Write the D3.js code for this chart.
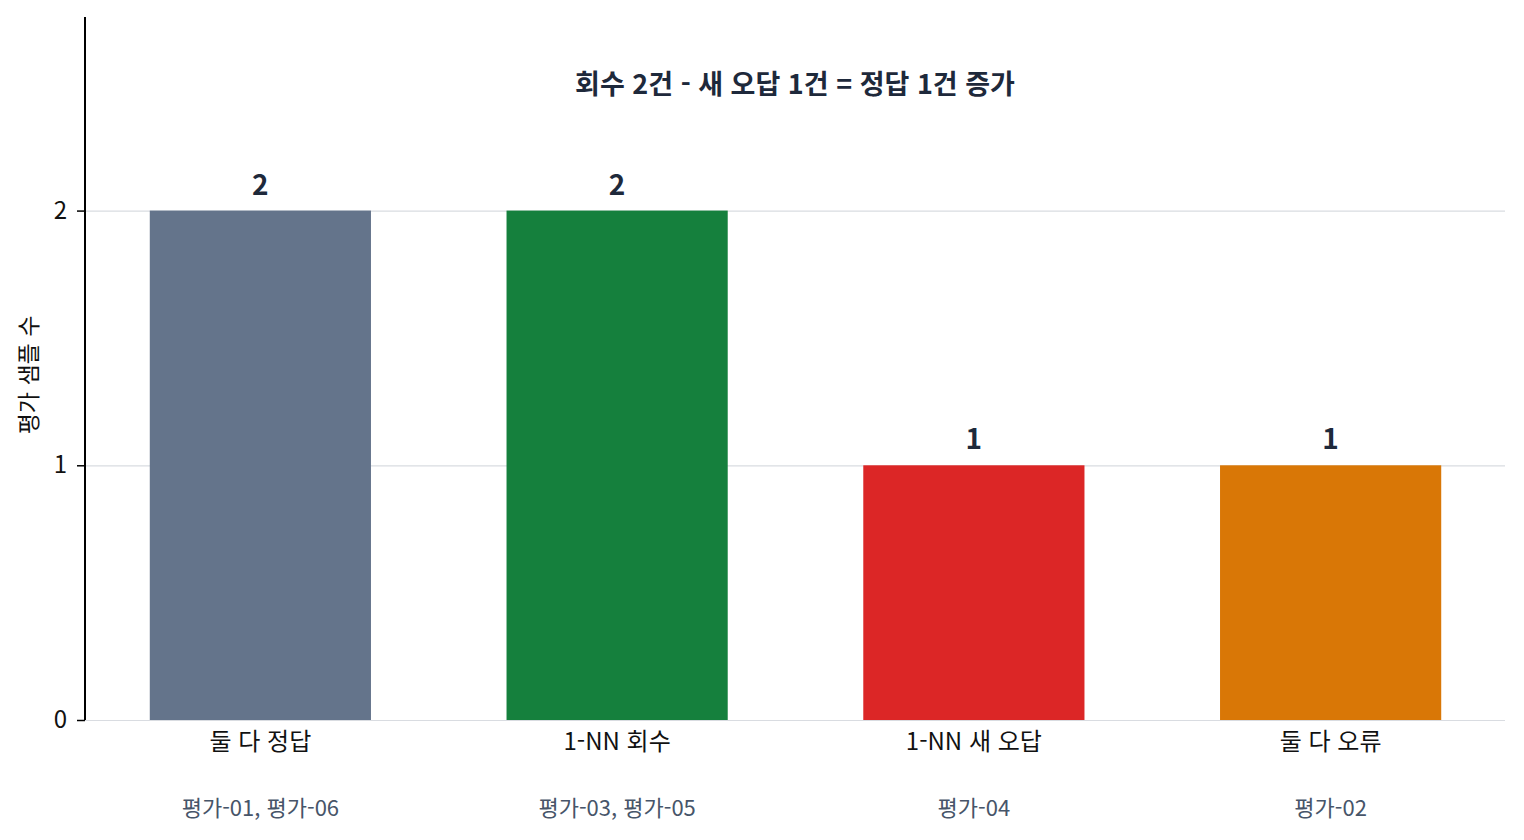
<!DOCTYPE html>
<html lang="ko">
<head>
    <meta charset="UTF-8">
    <title>1-NN 회수 비교</title>
    <style>
        body {
            margin: 0;
            background-color: white;
        }
        svg {
            display: block;
            font-family: "Noto Sans CJK KR", "Noto Sans", sans-serif;
        }
    </style>
</head>
<body>
    <svg></svg>
    <script src="https://d3js.org/d3.v7.min.js"></script>
    <script>
        const categories = ["둘 다 정답", "1-NN 회수", "1-NN 새 오답", "둘 다 오류"];
        const counts = [2, 2, 1, 1];
        const samples = ["평가-01, 평가-06", "평가-03, 평가-05", "평가-04", "평가-02"];
        const barColors = ["#64748b", "#15803d", "#dc2626", "#d97706"];
        const yTicks = [0, 1, 2];
        const title = "회수 2건 - 새 오답 1건 = 정답 1건 증가";
        const yLabel = "평가 샘플 수";

        const width = 1524;
        const height = 840;
        const plotLeft = 85, plotRight = 1505, plotTop = 17, plotBottom = 720;

        const svg = d3.select("svg")
            .attr("width", width)
            .attr("height", height);

        const x = d3.scaleBand()
            .domain(categories)
            .range([82, 1509])
            .paddingInner(0.38)
            .paddingOuter(0.19);

        const y = d3.scaleLinear()
            .domain([0, 2.76])
            .range([plotBottom, plotTop]);

        // grid lines
        svg.append("g")
            .selectAll("line")
            .data(yTicks)
            .join("line")
            .attr("x1", plotLeft)
            .attr("x2", plotRight)
            .attr("y1", d => y(d) + 0.5)
            .attr("y2", d => y(d) + 0.5)
            .attr("stroke", "#d9dce1")
            .attr("stroke-width", 1.2);

        // bars
        svg.append("g")
            .selectAll("rect")
            .data(categories)
            .join("rect")
            .attr("x", d => x(d))
            .attr("width", x.bandwidth())
            .attr("y", (d, i) => y(counts[i]))
            .attr("height", (d, i) => y(0) - y(counts[i]))
            .attr("fill", (d, i) => barColors[i]);

        // value labels
        svg.append("g")
            .selectAll("text")
            .data(categories)
            .join("text")
            .attr("x", d => x(d) + x.bandwidth() / 2)
            .attr("y", (d, i) => y(counts[i]) - 16)
            .attr("text-anchor", "middle")
            .attr("font-size", 28)
            .attr("font-weight", "bold")
            .attr("fill", "#1e293b")
            .text((d, i) => counts[i]);

        // y axis
        const yAxis = svg.append("g")
            .attr("transform", `translate(${plotLeft},0)`)
            .call(d3.axisLeft(y).tickValues(yTicks).tickSize(8).tickPadding(10).tickFormat(d3.format("d")));
        yAxis.select(".domain")
            .attr("d", `M0,${plotTop}V${plotBottom}`)
            .attr("stroke", "#000")
            .attr("stroke-width", 2);
        yAxis.selectAll(".tick line").attr("stroke", "#000").attr("stroke-width", 1.5);
        yAxis.selectAll(".tick text")
            .attr("font-size", 24)
            .attr("fill", "#111")
            .attr("font-family", "\"Noto Sans CJK KR\", sans-serif");

        // x category labels
        svg.append("g")
            .selectAll("text")
            .data(categories)
            .join("text")
            .attr("x", d => x(d) + x.bandwidth() / 2)
            .attr("y", 750)
            .attr("text-anchor", "middle")
            .attr("font-size", 24)
            .attr("fill", "#111")
            .text(d => d);

        // sample ids
        svg.append("g")
            .selectAll("text")
            .data(categories)
            .join("text")
            .attr("x", d => x(d) + x.bandwidth() / 2)
            .attr("y", 816)
            .attr("text-anchor", "middle")
            .attr("font-size", 22)
            .attr("fill", "#475569")
            .text((d, i) => samples[i]);

        // title
        svg.append("text")
            .attr("x", (plotLeft + plotRight) / 2)
            .attr("y", 94)
            .attr("text-anchor", "middle")
            .attr("font-size", 27)
            .attr("font-weight", "bold")
            .attr("fill", "#1e293b")
            .text(title);

        // y label
        svg.append("text")
            .attr("transform", `translate(37,375) rotate(-90)`)
            .attr("text-anchor", "middle")
            .attr("font-size", 23)
            .attr("fill", "#111")
            .text(yLabel);
    </script>
</body>
</html>
